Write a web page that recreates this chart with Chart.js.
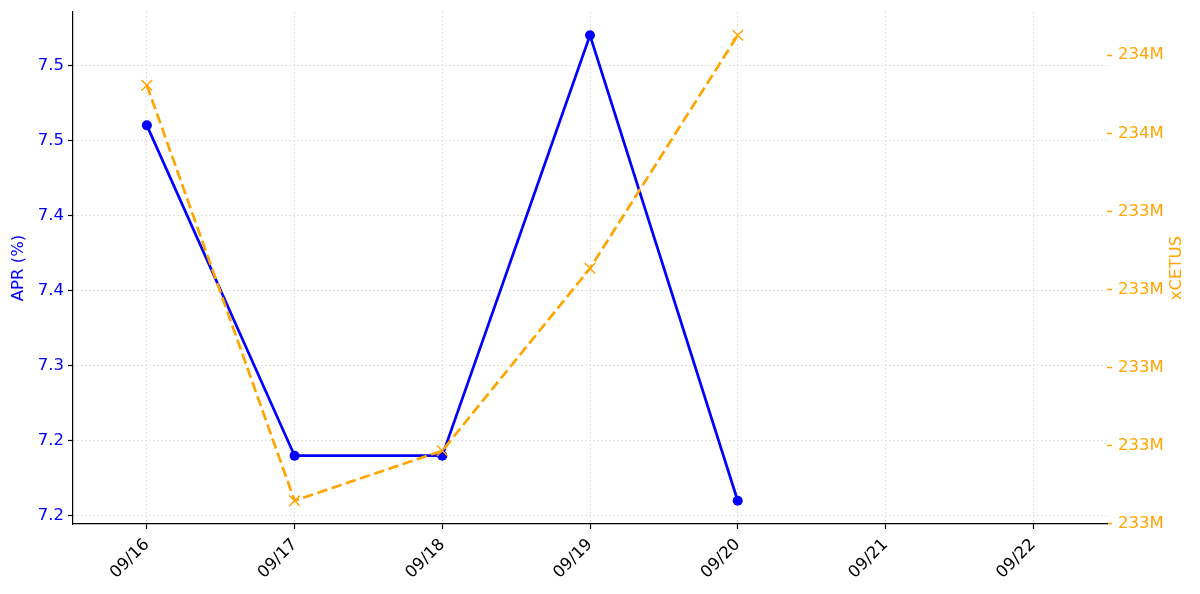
<!DOCTYPE html>
<html>
<head>
<meta charset="utf-8">
<script src="https://cdn.jsdelivr.net/npm/chart.js@4.4.1/dist/chart.umd.min.js"></script>
<style>
  html, body { margin: 0; padding: 0; background: #fff; }
</style>
</head>
<body>
<canvas id="aprChart" width="1200" height="594"></canvas>
<script>
// dates on the x axis (the last two days have no data yet)
const dates = ['09/16', '09/17', '09/18', '09/19', '09/20', '09/21', '09/22'];

// APR (%) per day
const aprValues = [7.46, 7.24, 7.24, 7.52, 7.21];

// xCETUS per day
const xcetusValues = [233723000, 232659000, 232787000, 233254000, 233851000];

// tick values and the labels printed for them
const aprTicks = [7.20, 7.25, 7.30, 7.35, 7.40, 7.45, 7.50];
const aprTickLabels = ['7.2', '7.2', '7.3', '7.4', '7.4', '7.5', '7.5'];
const xcetusTicks = [232600000, 232800000, 233000000, 233200000, 233400000, 233600000, 233800000];
const xcetusTickLabels = ['233M', '233M', '233M', '233M', '233M', '234M', '234M'];

const BLUE = '#0000ff';
const ORANGE = '#ffa500';
const GRID = '#d9d9d9';
const font = { family: 'DejaVu Sans', size: 16.5 };

// 5% margin on each side, like the original plot
function padded(values) {
    let lo = Math.min(...values), hi = Math.max(...values);
    let pad = (hi - lo) * 0.05;
    return { min: lo - pad, max: hi + pad };
}
let aprRange = padded(aprValues);
let xcetusRange = padded(xcetusValues);

// fixed axis box sizes so the plot area sits where the original one does
function fitY(width) {
    return s => {
        s.width = width;
        s.paddingTop = 0;
        s.paddingBottom = 0;
    };
}

// axis titles, both read bottom to top
const axisTitles = {
    id: 'axisTitles',
    afterDraw(chart) {
        let { ctx, chartArea } = chart;
        let midY = (chartArea.top + chartArea.bottom) / 2;
        [['APR (%)', BLUE, 19], ['xCETUS', ORANGE, 1177]].forEach(([text, color, x]) => {
            ctx.save();
            ctx.translate(x, midY);
            ctx.rotate(-Math.PI / 2);
            ctx.font = '16.5px "DejaVu Sans"';
            ctx.fillStyle = color;
            ctx.textAlign = 'center';
            ctx.textBaseline = 'middle';
            ctx.fillText(text, 0, 0);
            ctx.restore();
        });
    }
};

let ctx = document.getElementById('aprChart').getContext('2d');
let chart = new Chart(ctx, {
    type: 'line',
    data: {
        labels: dates,
        datasets: [{
            label: 'APR (%)',
            data: aprValues,
            yAxisID: 'y',
            order: 2,
            borderColor: BLUE,
            backgroundColor: BLUE,
            borderWidth: 2.7,
            pointRadius: 5,
            pointBorderWidth: 0,
            pointBackgroundColor: BLUE,
            tension: 0
        }, {
            label: 'xCETUS',
            data: xcetusValues,
            yAxisID: 'y1',
            order: 1,
            borderColor: ORANGE,
            backgroundColor: ORANGE,
            borderWidth: 2.7,
            borderDash: [10.5, 4.5],
            pointStyle: 'crossRot',
            pointRadius: 7.5,
            pointBorderWidth: 1.5,
            pointBorderColor: ORANGE,
            tension: 0
        }]
    },
    options: {
        responsive: false,
        animation: false,
        layout: { padding: { top: 12, left: 0, right: 0, bottom: 0 } },
        plugins: {
            legend: { display: false },
            tooltip: { enabled: false }
        },
        scales: {
            x: {
                type: 'category',
                offset: true,
                grid: {
                    color: GRID,
                    lineWidth: 1,
                    offset: false,
                    tickColor: '#000',
                    tickLength: 5,
                    tickWidth: 1.2,
                    tickBorderDash: []
                },
                border: { color: '#000', width: 1.2, dash: [1.5, 2.5] },
                ticks: {
                    color: '#000',
                    font: font,
                    minRotation: 45,
                    maxRotation: 45,
                    autoSkip: false,
                    padding: 6
                },
                afterFit: s => {
                    s.height = 70;
                    s.paddingLeft = 0;
                    s.paddingRight = 0;
                }
            },
            y: {
                position: 'left',
                min: aprRange.min,
                max: aprRange.max,
                afterBuildTicks: s => { s.ticks = aprTicks.map(v => ({ value: v })); },
                grid: {
                    color: GRID,
                    lineWidth: 1,
                    tickColor: '#000',
                    tickLength: 5,
                    tickWidth: 1.2,
                    tickBorderDash: []
                },
                border: { color: '#000', width: 1.2, dash: [1.5, 2.5] },
                ticks: {
                    color: BLUE,
                    font: font,
                    padding: 4,
                    callback: (v, i) => aprTickLabels[i]
                },
                afterFit: fitY(73)
            },
            y1: {
                position: 'right',
                min: xcetusRange.min,
                max: xcetusRange.max,
                afterBuildTicks: s => { s.ticks = xcetusTicks.map(v => ({ value: v })); },
                grid: {
                    drawOnChartArea: false,
                    tickColor: ORANGE,
                    tickLength: 5,
                    tickWidth: 1.5,
                    tickBorderDash: []
                },
                border: { display: false },
                ticks: {
                    color: ORANGE,
                    font: font,
                    padding: 6,
                    callback: (v, i) => xcetusTickLabels[i]
                },
                afterFit: fitY(93)
            }
        }
    },
    plugins: [axisTitles]
});
</script>
</body>
</html>
